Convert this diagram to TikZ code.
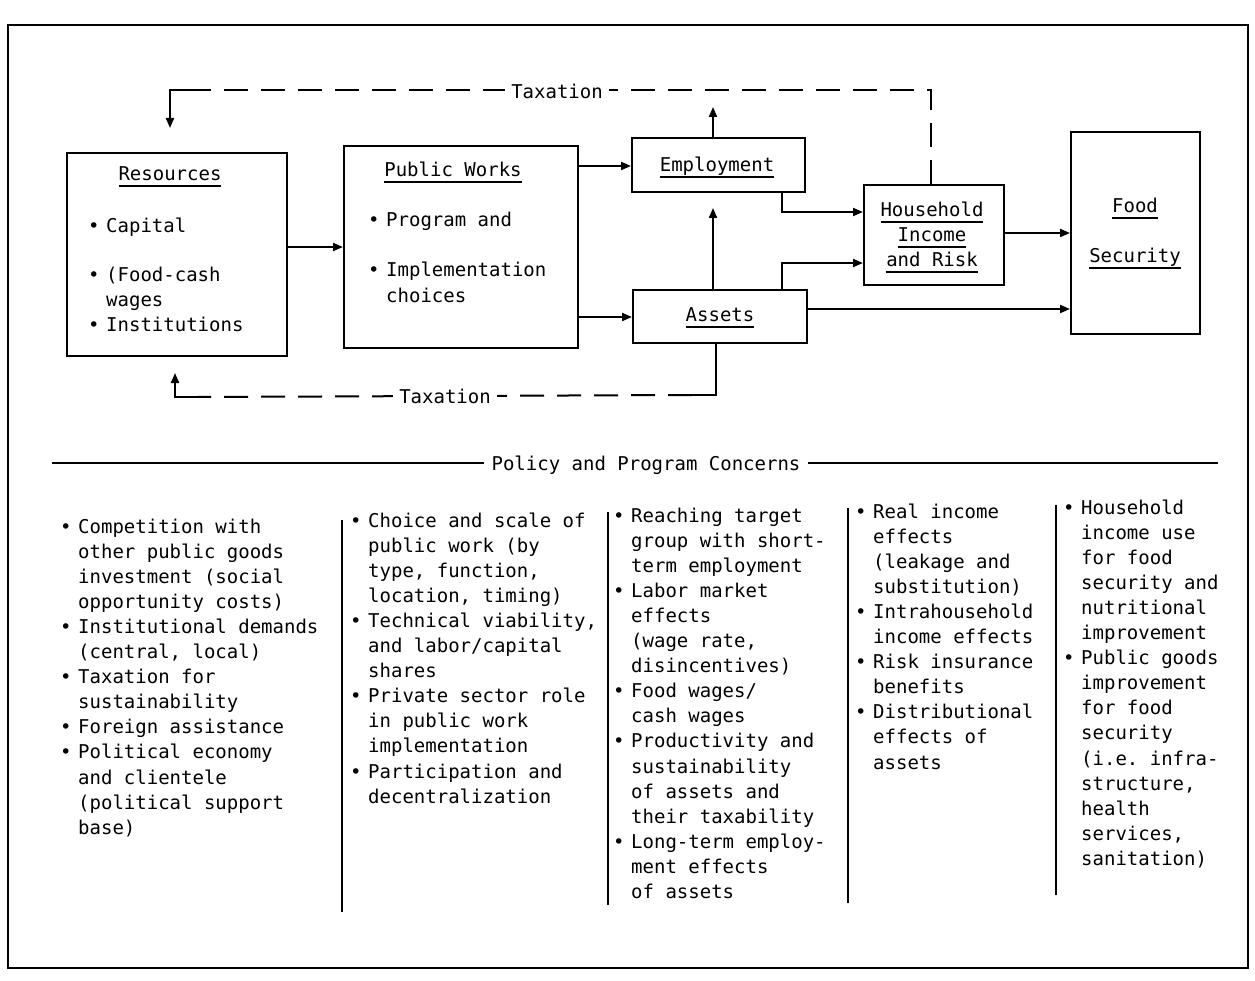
\documentclass[tikz,border=0pt]{standalone}
\usepackage{fontspec}
\setmonofont{DejaVu Sans Mono}
\usetikzlibrary{arrows.meta}
\newcommand\mybul{\makebox[18pt][l]{•}}
\newcommand\myind{\hspace*{18pt}}
\newcommand\myul[1]{\setbox0\hbox{#1}\rlap{\rule[-6pt]{\wd0}{1.6pt}}\box0}
\tikzset{
  box/.style={draw, line width=2.2pt, inner sep=0pt, anchor=north west},
  tx/.style={font=\ttfamily\fontsize{19}{25.1}\selectfont, inner sep=0pt},
  ctxt/.style={tx, anchor=base},
  ltxt/.style={tx, anchor=base west},
  arr/.style={line width=2pt, -{Triangle[length=10pt,width=8pt]}},
  solid line/.style={line width=2pt},
  dash line/.style={line width=2pt, dash pattern=on 24pt off 13pt},
  sep line/.style={line width=1.7pt},
  taxlbl/.style={tx, fill=white, inner xsep=6pt, inner ysep=3pt},
}
\begin{document}
\begin{tikzpicture}[x=1pt,y=-1pt]
\useasboundingbox (0,0) rectangle (1255,981);
% outer frame
\draw[line width=2pt] (8,25) rectangle (1248,968);

% boxes
\node[box, minimum width=220pt, minimum height=203pt] (res) at (66,152) {};
\node[box, minimum width=234pt, minimum height=202pt] (pw) at (343,145) {};
\node[box, minimum width=173pt, minimum height=54pt] (emp) at (631,137) {};
\node[box, minimum width=174pt, minimum height=53pt] (ast) at (632,289) {};
\node[box, minimum width=140pt, minimum height=100pt] (hh) at (863,184) {};
\node[box, minimum width=129pt, minimum height=202pt] (food) at (1070,131) {};

% box texts
\node[ctxt] (resT) at (170,181) {\myul{Resources}};
\node[ltxt] (res1) at (88,233) {\mybul Capital};
\node[ltxt] (res2) at (88,282) {\mybul (Food-cash};
\node[ltxt] (res3) at (106,307) {wages};
\node[ltxt] (res4) at (88,332) {\mybul Institutions};

\node[ctxt] (pwT) at (453,177) {\myul{Public Works}};
\node[ltxt] (pw1) at (368,227) {\mybul Program and};
\node[ltxt] (pw2) at (368,277) {\mybul Implementation};
\node[ltxt] (pw3) at (386,303) {choices};

\node[ctxt] (empT) at (717,172) {\myul{Employment}};
\node[ctxt] (astT) at (720,322) {\myul{Assets}};
\node[ctxt] (hh1) at (932,217) {\myul{Household}};
\node[ctxt] (hh2) at (932,242) {\myul{Income}};
\node[ctxt] (hh3) at (932,267) {\myul{and Risk}};
\node[ctxt] (food1) at (1135,213) {\myul{Food}};
\node[ctxt] (food2) at (1135,263) {\myul{Security}};

% free-end coordinates
\coordinate (empup) at (713,107);
\coordinate (astup) at (713,208);
\coordinate (tr) at (931,90);
\coordinate (tl1) at (192,90);
\coordinate (tl) at (170,90);
\coordinate (resin) at (170,128);
\coordinate (br) at (716,395);
\coordinate (br1) at (692,395);
\coordinate (bl1) at (198,397);
\coordinate (bl) at (175,397);
\coordinate (resout) at (175,373);

% solid connectors
\draw[arr] (res.east |- 0,247) -- (pw.west |- 0,247);
\draw[arr] (pw.east |- 0,166) -- (emp.west |- 0,166);
\draw[arr] (pw.east |- 0,317) -- (ast.west |- 0,317);
\draw[arr] (emp.north -| empup) -- (empup);
\draw[arr] (ast.north -| astup) -- (astup);
\draw[arr] (emp.south -| 782,0) |- (hh.west |- 0,212);
\draw[arr] (ast.north -| 782,0) |- (hh.west |- 0,263);
\draw[arr] (hh.east |- 0,233) -- (food.west |- 0,233);
\draw[arr] (ast.east |- 0,309) -- (food.west |- 0,309);

% taxation loops
\draw[dash line] (hh.north -| tr) -- (tr) -- (tl1);
\draw[arr] (tl1) -- (tl) -- (resin);
\draw[solid line] (ast.south -| br) -- (br) -- (br1);
\draw[dash line] (br1) -- (bl1);
\draw[arr] (bl1) -- (bl) -- (resout);
\node[taxlbl] (tax1) at (557,91) {Taxation};
\node[taxlbl] (tax2) at (445,396) {Taxation};

% policy header
\coordinate (pl) at (52,463);
\coordinate (pr) at (1218,463);
\draw[sep line] (pl) -- (pr);
\node[taxlbl, inner xsep=8pt] (pol) at (646,465) {Policy and Program Concerns};

% column separators
\draw[sep line] (342,520) -- (342,912);
\draw[sep line] (608,512) -- (608,905);
\draw[sep line] (848,508) -- (848,903);
\draw[sep line] (1056,505) -- (1056,895);

% columns
\node[ltxt] (c1) at (60,533) {\parbox[t]{280pt}{%
\mybul Competition with\\
\myind other public goods\\
\myind investment (social\\
\myind opportunity costs)\\
\mybul Institutional demands\\
\myind (central, local)\\
\mybul Taxation for\\
\myind sustainability\\
\mybul Foreign assistance\\
\mybul Political economy\\
\myind and clientele\\
\myind (political support\\
\myind base)}};

\node[ltxt] (c2) at (350,527) {\parbox[t]{280pt}{%
\mybul Choice and scale of\\
\myind public work (by\\
\myind type, function,\\
\myind location, timing)\\
\mybul Technical viability,\\
\myind and labor/capital\\
\myind shares\\
\mybul Private sector role\\
\myind in public work\\
\myind implementation\\
\mybul Participation and\\
\myind decentralization}};

\node[ltxt] (c3) at (613,522) {\parbox[t]{260pt}{%
\mybul Reaching target\\
\myind group with short-\\
\myind term employment\\
\mybul Labor market\\
\myind effects\\
\myind (wage rate,\\
\myind disincentives)\\
\mybul Food wages/\\
\myind cash wages\\
\mybul Productivity and\\
\myind sustainability\\
\myind of assets and\\
\myind their taxability\\
\mybul Long-term employ-\\
\myind ment effects\\
\myind of assets}};

\node[ltxt] (c4) at (855,518) {\parbox[t]{220pt}{%
\mybul Real income\\
\myind effects\\
\myind (leakage and\\
\myind substitution)\\
\mybul Intrahousehold\\
\myind income effects\\
\mybul Risk insurance\\
\myind benefits\\
\mybul Distributional\\
\myind effects of\\
\myind assets}};

\node[ltxt] (c5) at (1063,514) {\parbox[t]{200pt}{%
\mybul Household\\
\myind income use\\
\myind for food\\
\myind security and\\
\myind nutritional\\
\myind improvement\\
\mybul Public goods\\
\myind improvement\\
\myind for food\\
\myind security\\
\myind (i.e. infra-\\
\myind structure,\\
\myind health\\
\myind services,\\
\myind sanitation)}};
\end{tikzpicture}
\end{document}
